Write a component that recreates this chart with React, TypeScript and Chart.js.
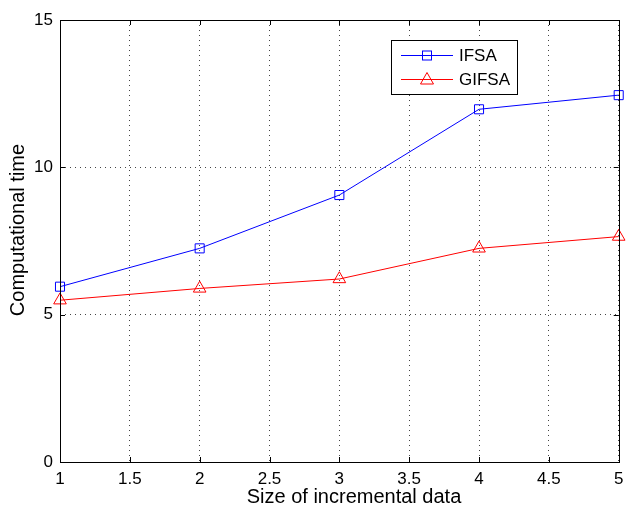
import React, { useEffect, useRef } from "react";
import { Chart, registerables } from "chart.js";

Chart.register(...registerables);

const xValues = [1, 2, 3, 4, 5];
const ifsaValues = [5.95, 7.25, 9.06, 11.97, 12.45];
const gifsaValues = [5.49, 5.89, 6.21, 7.25, 7.65];
const seriesLabels = ["IFSA", "GIFSA"];
const seriesColors = ["#0000ff", "#ff0000"];
const seriesMarkers = ["rect", "triangle"];
const xTitle = "Size of incremental data";
const yTitle = "Computational time";

const FONT = "'Liberation Sans', Arial, Helvetica, sans-serif";

const framePlugin = {
  id: "frame",
  afterDraw(chart: any) {
    const { ctx, chartArea: a, scales } = chart;
    ctx.save();
    ctx.strokeStyle = "#000";
    ctx.lineWidth = 1;
    ctx.setLineDash([]);
    ctx.strokeRect(Math.round(a.left) + 0.5, Math.round(a.top) + 0.5, Math.round(a.right - a.left), Math.round(a.bottom - a.top));
    const tl = 5;
    ctx.beginPath();
    scales.x.ticks.forEach((t: any) => {
      const x = Math.round(scales.x.getPixelForValue(t.value)) + 0.5;
      ctx.moveTo(x, a.bottom);
      ctx.lineTo(x, a.bottom - tl);
      ctx.moveTo(x, a.top);
      ctx.lineTo(x, a.top + tl);
    });
    scales.y.ticks.forEach((t: any) => {
      const y = Math.round(scales.y.getPixelForValue(t.value)) + 0.5;
      ctx.moveTo(a.left, y);
      ctx.lineTo(a.left + tl, y);
      ctx.moveTo(a.right, y);
      ctx.lineTo(a.right - tl, y);
    });
    ctx.stroke();

    // axis titles
    ctx.fillStyle = "#000";
    ctx.font = `20px ${FONT}`;
    ctx.textAlign = "center";
    ctx.textBaseline = "middle";
    ctx.fillText(xTitle, 354, 497);
    ctx.save();
    ctx.translate(18, 230);
    ctx.rotate(-Math.PI / 2);
    ctx.fillText(yTitle, 0, 0);
    ctx.restore();

    // legend box
    const bx = 391, by = 40, bw = 126, bh = 54;
    ctx.fillStyle = "#fff";
    ctx.fillRect(bx, by, bw, bh);
    ctx.strokeStyle = "#000";
    ctx.strokeRect(bx + 0.5, by + 0.5, bw, bh);
    const rows = [55.5, 79.5];
    seriesLabels.forEach((label, i) => {
      const y = rows[i];
      const c = seriesColors[i];
      ctx.strokeStyle = c;
      ctx.lineWidth = 1;
      ctx.beginPath();
      ctx.moveTo(401, y);
      ctx.lineTo(453, y);
      ctx.stroke();
      if (seriesMarkers[i] === "rect") {
        ctx.strokeRect(422.5, y - 4.5, 9, 9);
      } else {
        ctx.beginPath();
        ctx.moveTo(427, y - 7);
        ctx.lineTo(433.5, y + 4.5);
        ctx.lineTo(420.5, y + 4.5);
        ctx.closePath();
        ctx.stroke();
      }
      ctx.fillStyle = "#000";
      ctx.font = `17px ${FONT}`;
      ctx.textBaseline = "middle";
      ctx.textAlign = "left";
      ctx.fillText(label, 459, y + 1);
    });
    ctx.restore();
  },
};

export default function App() {
  const ref = useRef<HTMLCanvasElement>(null);
  useEffect(() => {
    if (!ref.current) return;
    const mk = (arr: number[]) => xValues.map((x, i) => ({ x, y: arr[i] }));
    const series = [ifsaValues, gifsaValues];
    const chart = new Chart(ref.current, {
      type: "line",
      data: {
        datasets: series.map((vals, i) => ({
          label: seriesLabels[i],
          data: mk(vals),
          borderColor: seriesColors[i],
          backgroundColor: "rgba(0,0,0,0)",
          borderWidth: 1,
          pointStyle: seriesMarkers[i],
          pointRadius: i === 0 ? 6.4 : 7.3,
          pointBorderWidth: 1,
          pointBorderColor: seriesColors[i],
          pointBackgroundColor: "rgba(0,0,0,0)",
          clip: false,
        })) as any,
      },
      options: {
        animation: false,
        responsive: false,
        layout: { padding: { left: 0, right: 6, top: 20, bottom: 0 } },
        plugins: { legend: { display: false }, tooltip: { enabled: false } },
        scales: {
          x: {
            type: "linear",
            min: 1,
            max: 5,
            ticks: {
              stepSize: 0.5,
              color: "#000",
              font: { family: FONT, size: 17 },
              padding: 7,
              maxRotation: 0,
              callback: (v: any) => String(Number(v)),
            },
            grid: { color: "#444", drawTicks: false },
            border: { display: false, dash: [1, 4] },
            title: { display: false, text: xTitle },
            afterFit: (s: any) => { s.height = 48; s.paddingLeft = 0; s.paddingRight = 0; },
          },
          y: {
            min: 0,
            max: 15,
            ticks: { stepSize: 5, color: "#000", font: { family: FONT, size: 17 }, padding: 7 },
            grid: { color: "#444", drawTicks: false },
            border: { display: false, dash: [1, 4] },
            title: { display: false, text: yTitle },
            afterFit: (s: any) => { s.width = 60; s.paddingTop = 0; s.paddingBottom = 0; },
          },
        },
      } as any,
      plugins: [framePlugin],
    });
    return () => chart.destroy();
  }, []);
  return (
    <div style={{ position: "fixed", left: 0, top: 0, width: 627, height: 510, background: "#fff" }}>
      <canvas ref={ref} width={627} height={510} style={{ width: 627, height: 510 }} />
    </div>
  );
}
